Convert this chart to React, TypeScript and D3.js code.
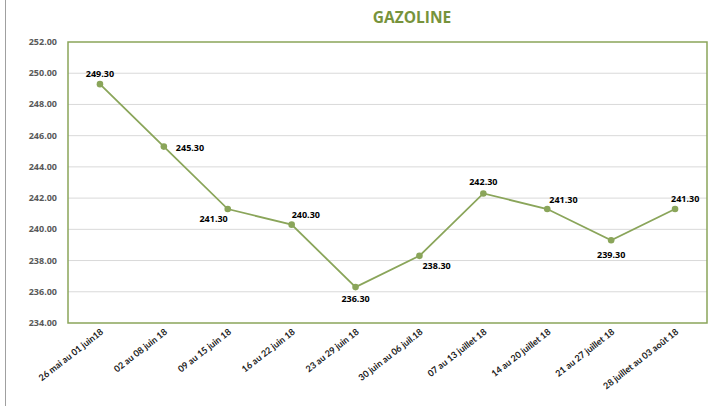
import React from "react";
import * as d3 from "d3";

const categories = [
  "26 mai au 01 juin18",
  "02 au 08 juin 18",
  "09 au 15 juin 18",
  "16 au 22 juin 18",
  "23 au 29 juin 18",
  "30 juin au 06 juil.18",
  "07 au 13 juillet 18",
  "14 au 20 juillet 18",
  "21 au 27 juillet 18",
  "28 juillet au 03 août 18",
];
const values = [249.3, 245.3, 241.3, 240.3, 236.3, 238.3, 242.3, 241.3, 239.3, 241.3];
const yTicks = [234, 236, 238, 240, 242, 244, 246, 248, 250, 252];
// label placement: dx, dy, anchor
const labelPos: [number, number, string][] = [
  [0, -7, "middle"],
  [12, 4, "start"],
  [0, 13, "end"],
  [0, -7, "start"],
  [0, 15, "middle"],
  [3, 13, "start"],
  [0, -8, "middle"],
  [2, -6, "start"],
  [0, 18, "middle"],
  [-4, -7, "start"],
];

const W = 712, H = 406;
const M = { left: 68, right: 707, top: 42, bottom: 323 };
const green = "#8aa55a";

export default function App() {
  const x = d3.scaleBand<string>().domain(categories).range([M.left, M.right]);
  const y = d3.scaleLinear().domain([234, 252]).range([M.bottom, M.top]);
  const cx = (c: string) => (x(c) as number) + x.bandwidth() / 2;
  const line = d3.line<number>().x((_, i) => cx(categories[i])).y((d) => y(d));
  const font = "'Open Sans', 'DejaVu Sans', sans-serif";
  return (
    <svg width={W} height={H} style={{ position: "absolute", left: 0, top: 0 }} fontFamily={font}>
      <rect x={0} y={0} width={W} height={H} fill="#fff" />
      <line x1={5.5} x2={5.5} y1={0} y2={H} stroke="#a0a0a0" strokeWidth={1} />
      <text x={412} y={23} textAnchor="middle" fontSize={15.5} fontWeight="bold" fill="#77933c">GAZOLINE</text>
      {yTicks.map((t) => (
        <g key={t}>
          {t !== 234 && t !== 252 && (
            <line x1={M.left} x2={M.right} y1={y(t)} y2={y(t)} stroke="#d9d9d9" strokeWidth={1} />
          )}
          <text x={57} y={y(t) + 3} textAnchor="end" fontSize={9} fontWeight="bold" fill="#595959">
            {t.toFixed(2)}
          </text>
        </g>
      ))}
      <rect x={M.left} y={M.top} width={M.right - M.left} height={M.bottom - M.top} fill="none" stroke={green} strokeWidth={1.5} />
      <path d={line(values) || ""} fill="none" stroke={green} strokeWidth={1.8} />
      {values.map((v, i) => (
        <circle key={i} cx={cx(categories[i])} cy={y(v)} r={3.3} fill={green} />
      ))}
      {values.map((v, i) => {
        const [dx, dy, anchor] = labelPos[i];
        return (
          <text key={i} x={cx(categories[i]) + dx} y={y(v) + dy} textAnchor={anchor as any} fontSize={9} fontWeight="bold" fill="#000">
            {v.toFixed(2)}
          </text>
        );
      })}
      {categories.map((c) => (
        <text key={c} transform={`translate(${cx(c) + 4},${M.bottom + 10}) rotate(-38)`} textAnchor="end" fontSize={9} fontWeight="bold" fontFamily="Lato, 'Open Sans', sans-serif" fill="#1a1a1a">
          {c}
        </text>
      ))}
    </svg>
  );
}
